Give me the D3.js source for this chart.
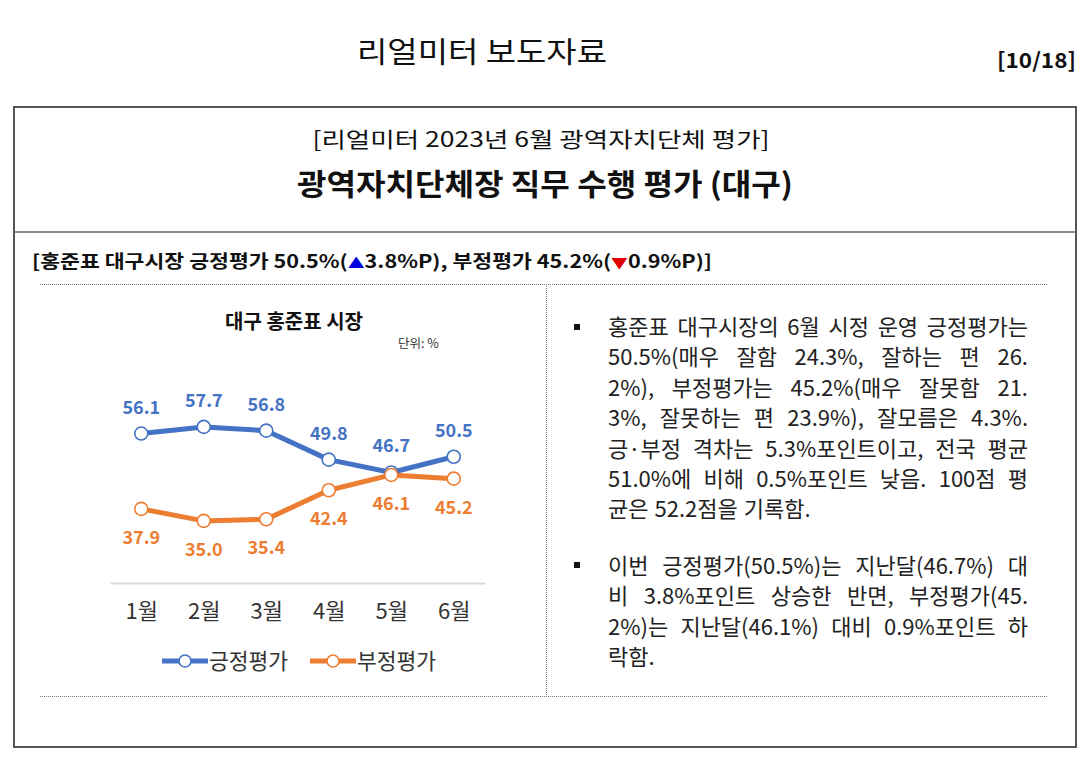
<!DOCTYPE html>
<html><head><meta charset="utf-8">
<script src="https://cdn.jsdelivr.net/npm/d3@7"></script>
<style>
html,body{margin:0;padding:0;background:#fff;}
svg{display:block;}
text{font-family:"Noto Sans CJK KR","Noto Sans",sans-serif;}
</style></head>
<body>
<svg id="c" width="1080" height="771"></svg>
<script>
const months = ["1월","2월","3월","4월","5월","6월"];
const positive = [56.1, 57.7, 56.8, 49.8, 46.7, 50.5];
const negative = [37.9, 35.0, 35.4, 42.4, 46.1, 45.2];
const seriesNames = ["긍정평가","부정평가"];
const para1 = [
  "홍준표 대구시장의 6월 시정 운영 긍정평가는",
  "50.5%(매우 잘함 24.3%, 잘하는 편 26.",
  "2%), 부정평가는 45.2%(매우 잘못함 21.",
  "3%, 잘못하는 편 23.9%), 잘모름은 4.3%.",
  "긍·부정 격차는 5.3%포인트이고, 전국 평균",
  "51.0%에 비해 0.5%포인트 낮음. 100점 평",
  "균은 52.2점을 기록함."
];
const para2 = [
  "이번 긍정평가(50.5%)는 지난달(46.7%) 대",
  "비 3.8%포인트 상승한 반면, 부정평가(45.",
  "2%)는 지난달(46.1%) 대비 0.9%포인트 하",
  "락함."
];

function draw(){
const svg = d3.select("#c");
const BLUE = "#4472c4", ORANGE = "#ed7d31";

// header
svg.append("text").attr("x",482).attr("y",63).attr("text-anchor","middle")
  .attr("font-size",29).attr("fill","#111").attr("textLength",250).attr("lengthAdjust","spacingAndGlyphs")
  .text("리얼미터 보도자료");
svg.append("text").attr("x",1076).attr("y",68).attr("text-anchor","end")
  .attr("font-size",21).attr("font-weight",700).attr("fill","#111")
  .attr("textLength",79).attr("lengthAdjust","spacingAndGlyphs").text("[10/18]");

// box
svg.append("rect").attr("x",14).attr("y",107).attr("width",1062).attr("height",640)
  .attr("fill","none").attr("stroke","#555").attr("stroke-width",2);
svg.append("line").attr("x1",14).attr("x2",1076).attr("y1",232).attr("y2",232)
  .attr("stroke","#666").attr("stroke-width",1.5);

svg.append("text").attr("x",541).attr("y",147).attr("text-anchor","middle")
  .attr("font-size",21).attr("fill","#111").attr("textLength",457).attr("lengthAdjust","spacingAndGlyphs")
  .text("[리얼미터 2023년 6월 광역자치단체 평가]");
svg.append("text").attr("x",545).attr("y",195).attr("text-anchor","middle")
  .attr("font-size",30).attr("font-weight",700).attr("fill","#111").attr("textLength",496).attr("lengthAdjust","spacingAndGlyphs")
  .text("광역자치단체장 직무 수행 평가 (대구)");

const sub = svg.append("text").attr("x",32).attr("y",268)
  .attr("font-size",18).attr("font-weight",700).attr("fill","#111")
  .attr("textLength",680).attr("lengthAdjust","spacingAndGlyphs");
sub.append("tspan").text("[홍준표 대구시장 긍정평가 50.5%(");
sub.append("tspan").attr("fill","#0000e0").attr("font-size",14).text("▲");
sub.append("tspan").text("3.8%P), 부정평가 45.2%(");
sub.append("tspan").attr("fill","#e00000").attr("font-size",14).text("▼");
sub.append("tspan").text("0.9%P)]");

// dotted lines
const dot = {stroke:"#777","stroke-width":1,"stroke-dasharray":"1,1"};
function dl(x1,y1,x2,y2){const l=svg.append("line").attr("x1",x1).attr("y1",y1).attr("x2",x2).attr("y2",y2);
  Object.entries(dot).forEach(([k,v])=>l.attr(k,v));}
dl(40,284.5,1048,284.5);
dl(546.5,284,546.5,696);
dl(40,696.5,1048,696.5);

// chart
svg.append("text").attr("x",294).attr("y",329).attr("text-anchor","middle")
  .attr("font-size",20).attr("font-weight",700).attr("fill","#111").text("대구 홍준표 시장");
svg.append("text").attr("x",398).attr("y",348)
  .attr("font-size",12.5).attr("fill","#333").text("단위: %");

const x = d3.scalePoint().domain(months).range([110,485]).padding(0.5);
const y = d3.scaleLinear().domain([20,70]).range([583,376]);

const axis = svg.append("g").attr("transform","translate(0,583)")
  .call(d3.axisBottom(x).tickSize(0).tickPadding(20));
axis.select(".domain").attr("stroke","#d9d9d9").attr("stroke-width",2);
axis.selectAll(".tick text").attr("font-size",22).attr("fill","#333")
  .attr("font-family",'"Noto Sans CJK KR",sans-serif');

const line = d3.line().x((d,i)=>x(months[i])).y(d=>y(d));
const series = [
  {name:seriesNames[0], vals:positive, color:BLUE, off:-20},
  {name:seriesNames[1], vals:negative, color:ORANGE, off:35}
];
series.forEach(s=>{
  svg.append("path").datum(s.vals).attr("d",line).attr("fill","none")
    .attr("stroke",s.color).attr("stroke-width",5).attr("stroke-linejoin","round");
  svg.selectAll(null).data(s.vals).enter().append("circle")
    .attr("cx",(d,i)=>x(months[i])).attr("cy",d=>y(d)).attr("r",6.5)
    .attr("fill","#fff").attr("stroke",s.color).attr("stroke-width",1.6);
});
series.forEach(s=>{
  svg.selectAll(null).data(s.vals).enter().append("text")
    .attr("x",(d,i)=>x(months[i])).attr("y",d=>y(d)+s.off)
    .attr("text-anchor","middle").attr("font-size",18).attr("font-weight",700)
    .attr("fill",s.color).text(d=>d.toFixed(1));
});

// legend
const legX = [162, 310];
series.forEach((s,i)=>{
  const g = svg.append("g").attr("transform",`translate(${legX[i]},661)`);
  g.append("line").attr("x1",0).attr("x2",46).attr("stroke",s.color).attr("stroke-width",5);
  g.append("circle").attr("cx",23).attr("r",6).attr("fill","#fff").attr("stroke",s.color).attr("stroke-width",1.6);
  g.append("text").attr("x",47).attr("y",8).attr("font-size",21.5).attr("fill","#333").text(s.name);
});

// right text
const tx0 = 608, tx1 = 1028, lh = 30.4;
function para(lines, y0){
  lines.forEach((ln,li)=>{
    const yy = y0 + li*lh;
    const words = ln.split(" ");
    const t = svg.append("text").attr("y",yy).attr("font-size",22).attr("fill","#222");
    const spans = words.map(w=>t.append("tspan").attr("x",0).text(w));
    const widths = spans.map(s=>s.node().getComputedTextLength());
    const sum = d3.sum(widths);
    const last = li===lines.length-1;
    let gap = last || words.length<2 ? 6 : (tx1-tx0-sum)/(words.length-1);
    let cx = tx0;
    spans.forEach((s,k)=>{ s.attr("x",cx); cx += widths[k]+gap; });
  });
}
svg.append("rect").attr("x",574).attr("y",324).attr("width",6).attr("height",6).attr("fill","#111");
svg.append("rect").attr("x",574).attr("y",562).attr("width",6).attr("height",6).attr("fill","#111");
para(para1, 335);
para(para2, 574);
}
if (document.fonts && document.fonts.ready) document.fonts.ready.then(draw); else draw();
</script>
</body></html>
